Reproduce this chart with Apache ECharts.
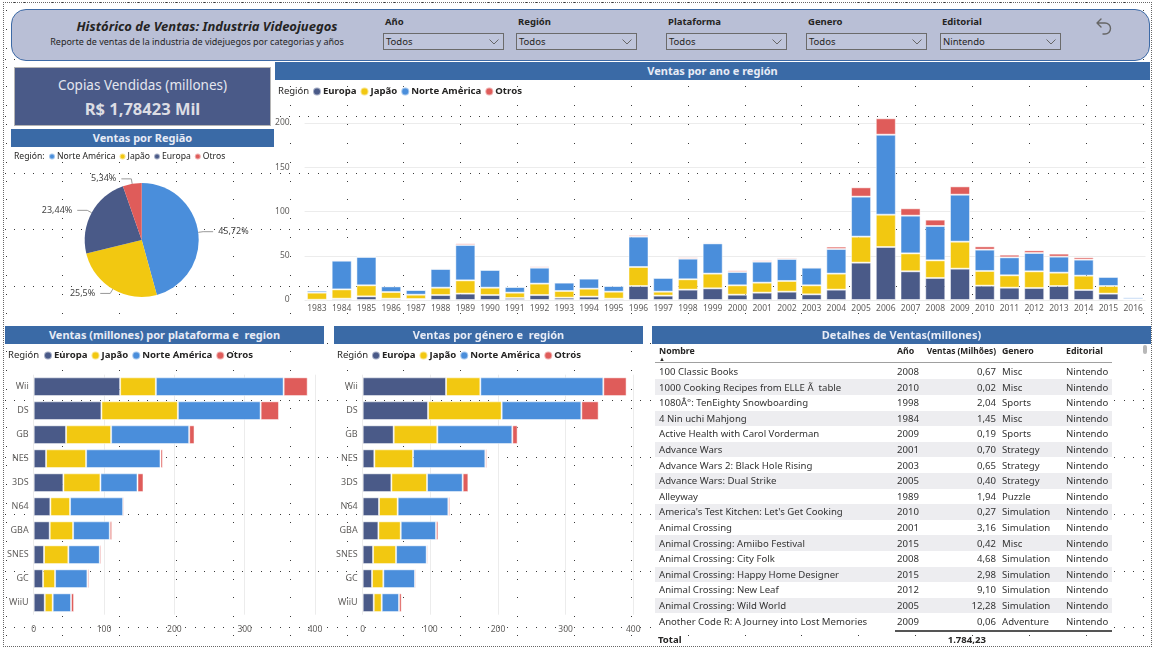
<!DOCTYPE html>
<html><head><meta charset="utf-8">
<script src="https://cdn.jsdelivr.net/npm/echarts@6/dist/echarts.min.js"></script>
<style>
html,body{margin:0;padding:0;width:1155px;height:651px;overflow:hidden;background:#fff;font-family:"Noto Sans","Open Sans",sans-serif;color:#252423;}
.abs{position:absolute;}
#frame{left:3px;top:2px;width:1149px;height:645px;border:1px dotted #666;box-sizing:border-box;}
#header{left:11px;top:9px;width:1139px;height:52px;background:#b9bfd6;border:1.5px solid #3d6aa6;border-radius:15px;box-sizing:border-box;}
.htitle{font-weight:bold;font-style:italic;font-size:13px;white-space:nowrap;transform:translateX(-50%);}
.hsub{font-size:9px;white-space:nowrap;transform:translateX(-50%);}
.slab{font-weight:bold;font-size:9.5px;white-space:nowrap;}
.sbox{height:17px;width:121px;border:1px solid #6b6b6b;box-sizing:border-box;background:#bfc5db;font-size:9.5px;line-height:15px;padding-left:2px;}
.sbox svg{position:absolute;right:4px;top:5px;}
.band{background:#3a6aa6;color:#e8ecf6;font-weight:bold;font-size:11px;text-align:center;white-space:pre;}
#card{left:14px;top:67px;width:257px;height:59px;background:#4a5a88;border:1px solid #b5b5b5;box-sizing:border-box;text-align:center;}
.row{left:655px;width:457px;height:15.6px;}
.cell{font-size:9.6px;white-space:nowrap;color:#333;}
.th{font-size:8.8px;font-weight:bold;white-space:nowrap;color:#252423;}
</style></head>
<body>
<canvas id="dots" class="abs" width="1155" height="651" style="left:0;top:0"></canvas>
<div id="frame" class="abs"></div>
<div id="header" class="abs"></div>
<div id="overlay"></div>
<div id="chart" class="abs" style="left:0;top:0;width:1155px;height:651px;"></div>
<script>
// ---------- DATA ----------
const years = ['1983','1984','1985','1986','1987','1988','1989','1990','1991','1992','1993','1994','1995','1996','1997','1998','1999','2000','2001','2002','2003','2004','2005','2006','2007','2008','2009','2010','2011','2012','2013','2014','2015','2016'];
const yearEuropa = [0.3,1.5,4.1,1.5,1.1,5.6,7.2,5.6,2.3,5.6,2.6,3.8,1.5,15.8,4.9,11.7,13.2,6.0,8.3,9.4,6.4,11.7,42.2,59.9,32.4,24.9,35.4,16.2,13.9,13.6,15.8,11.3,7.2,0.3];
const yearJapao  = [8.0,10.5,12.5,7.5,4.9,8.3,15.0,8.3,6.0,12.9,7.6,9.0,7.9,21.5,4.5,11.7,16.6,10.6,11.3,12.1,10.2,18.1,29.4,36.5,20.3,19.9,30.5,16.6,14.0,18.8,15.1,16.2,8.6,0.8];
const yearNA     = [2.2,32.4,32.0,6.4,5.3,21.1,39.9,20.0,6.4,18.0,9.4,11.3,6.4,34.3,15.5,23.3,34.2,15.0,23.7,24.8,19.9,27.8,45.2,90.4,42.6,38.8,53.1,24.1,20.3,20.7,18.1,18.1,10.2,2.0];
const yearOtros  = [0.8,1.2,1.1,0.8,0.4,1.2,1.9,1.1,0.7,1.5,0.7,1.1,0.8,1.8,1.1,1.5,1.2,1.9,1.5,1.5,1.2,2.7,10.5,18.5,8.3,7.2,9.4,3.7,3.0,3.0,3.4,2.6,1.1,0.3];

const platforms  = ['Wii','DS','GB','NES','3DS','N64','GBA','SNES','GC','WiiU'];
const platEuropa = [122.9,96.3,46.0,17.6,42.2,23.7,22.8,14.7,13.3,15.7];
const platJapao  = [50.8,108.7,64.1,56.9,52.7,28.0,33.2,34.6,17.1,11.3];
const platNA     = [181.7,117.7,111.0,105.8,52.7,75.5,52.2,44.7,46.0,26.1];
const platOtros  = [34.2,26.1,7.6,3.3,8.5,1.9,3.3,2.3,2.4,4.3];

const genreCats   = ['Wii','DS','GB','NES','3DS','N64','GBA','SNES','GC','WiiU'];
const genreEuropa = [123.2,96.6,45.8,17.2,42.4,24.1,23.2,15.3,13.8,16.3];
const genreJapao  = [50.7,108.8,64.5,57.2,52.7,27.6,33.0,34.0,16.7,11.8];
const genreNA     = [181.8,117.8,110.9,106.9,52.7,74.9,52.2,45.3,46.8,25.6];
const genreOtros  = [34.4,25.6,7.8,2.4,8.4,2.5,3.4,2.0,2.0,3.9];

const pieNames  = ['Norte América','Japão','Europa','Otros'];
const pieValues = [45.72,25.5,23.44,5.34];

const tblNombre = ['100 Classic Books','1000 Cooking Recipes from ELLE Ã\u00a0 table','1080Â°: TenEighty Snowboarding','4 Nin uchi Mahjong','Active Health with Carol Vorderman','Advance Wars','Advance Wars 2: Black Hole Rising','Advance Wars: Dual Strike','Alleyway',"America's Test Kitchen: Let's Get Cooking",'Animal Crossing','Animal Crossing: Amiibo Festival','Animal Crossing: City Folk','Animal Crossing: Happy Home Designer','Animal Crossing: New Leaf','Animal Crossing: Wild World','Another Code R: A Journey into Lost Memories'];
const tblAno = [2008,2010,1998,1984,2009,2001,2003,2005,1989,2010,2001,2015,2008,2015,2012,2005,2009];
const tblVentas = [0.67,0.02,2.04,1.45,0.19,0.70,0.65,0.40,1.94,0.27,3.16,0.42,4.68,2.98,9.10,12.28,0.06];
const tblGenero = ['Misc','Misc','Sports','Misc','Sports','Strategy','Strategy','Strategy','Puzzle','Simulation','Simulation','Misc','Simulation','Simulation','Simulation','Simulation','Adventure'];
const tblEditorial = ['Nintendo','Nintendo','Nintendo','Nintendo','Nintendo','Nintendo','Nintendo','Nintendo','Nintendo','Nintendo','Nintendo','Nintendo','Nintendo','Nintendo','Nintendo','Nintendo','Nintendo'];
const tblTotal = '1.784,23';

const slicers = [
  {label:'Año', value:'Todos', x:383},
  {label:'Región', value:'Todos', x:516},
  {label:'Plataforma', value:'Todos', x:666},
  {label:'Genero', value:'Todos', x:806},
  {label:'Editorial', value:'Nintendo', x:940}
];

// ---------- DOTS BACKGROUND ----------
(function(){
  const c = document.getElementById('dots').getContext('2d');
  c.fillStyle = '#3a3a3a';
  const step = 56.85;
  for (let r = 0; r < 12; r++) {
    const y = Math.round(2 + r*step);
    for (let x = 5; x < 1150; x += 9.48) c.fillRect(Math.round(x), y, 1, 1);
  }
  for (let k = 0; k < 21; k++) {
    const x = Math.round(5.5 + k*step);
    for (let y = 10; y < 648; y += 18.95) c.fillRect(x, Math.round(y), 1, 1);
  }
})();

// ---------- HTML OVERLAY ----------
const ov = document.getElementById('overlay');
function add(html){ ov.insertAdjacentHTML('beforeend', html); }
add('<div class="abs htitle" style="left:207px;top:17px;">Histórico de Ventas: Industria Videojuegos</div>');
add('<div class="abs hsub" style="left:197px;top:35px;">Reporte de ventas de la industria de videjuegos por categorias y años</div>');
slicers.forEach(s=>{
  add('<div class="abs slab" style="left:'+(s.x+2)+'px;top:15px;">'+s.label+'</div>');
  add('<div class="abs sbox" style="left:'+s.x+'px;top:33px;">'+s.value+
      '<svg width="10" height="6"><polyline points="0.5,0.5 5,5 9.5,0.5" fill="none" stroke="#666" stroke-width="1"/></svg></div>');
});
add('<svg class="abs" style="left:1093px;top:16px" width="20" height="20"><path d="M4 7 L8 3 M4 7 L8 11 M4 7 H12 A5.5 5.5 0 0 1 12 18 H10" fill="none" stroke="#666" stroke-width="1.4" stroke-linecap="round"/></svg>');

add('<div id="card" class="abs"><div style="color:#e4e6ef;font-size:13.5px;margin-top:8px;">Copias Vendidas (millones)</div>'+
    '<div style="color:#dcdde4;font-size:16.5px;font-weight:bold;margin-top:3px;">R$ 1,78423 Mil</div></div>');

add('<div class="abs band" style="left:11px;top:129px;width:263px;height:18px;line-height:18px;">Ventas por Região</div>');
add('<div class="abs band" style="left:275px;top:62px;width:875px;height:18px;line-height:18px;">Ventas por ano e región</div>');
add('<div class="abs band" style="left:5px;top:326px;width:319px;height:18px;line-height:18px;">Ventas (millones) por plataforma e  region</div>');
add('<div class="abs band" style="left:334px;top:326px;width:309px;height:18px;line-height:18px;">Ventas por género e  región</div>');
add('<div class="abs band" style="left:652px;top:326px;width:499px;height:18px;line-height:18px;">Detalhes de Ventas(millones)</div>');

// table
add('<div class="abs" style="left:655px;top:344px;width:457px;height:18px;background:#fff;"></div>');
add('<div class="abs th" style="left:659px;top:345px;">Nombre</div>');
add('<div class="abs" style="left:659px;top:356px;font-size:6px;line-height:6px;">&#9650;</div>');
add('<div class="abs th" style="left:897px;top:345px;">Año</div>');
add('<div class="abs th" style="left:896px;width:100px;text-align:right;top:345px;font-size:8.4px;">Ventas (Milhões)</div>');
add('<div class="abs th" style="left:1002px;top:345px;">Genero</div>');
add('<div class="abs th" style="left:1066px;top:345px;">Editorial</div>');
add('<div class="abs" style="left:655px;top:362px;width:457px;height:1px;background:#a0a0a0;"></div>');
add('<div class="abs" style="left:1143px;top:345px;width:4px;height:9px;border-radius:2px;background:#b8b8b8;"></div>');
for (let i = 0; i < tblNombre.length; i++) {
  const top = 363.8 + i*15.6;
  const bg = (i % 2 === 1) ? '#ededf0' : '#ffffff';
  add('<div class="abs row" style="top:'+top+'px;background:'+bg+';"></div>');
  const ty = top + 1.2;
  add('<div class="abs cell" style="left:659px;top:'+ty+'px;">'+tblNombre[i]+'</div>');
  add('<div class="abs cell" style="left:897px;top:'+ty+'px;">'+tblAno[i]+'</div>');
  add('<div class="abs cell" style="left:896px;width:100px;text-align:right;top:'+ty+'px;">'+tblVentas[i].toFixed(2).replace('.',',')+'</div>');
  add('<div class="abs cell" style="left:1002px;top:'+ty+'px;">'+tblGenero[i]+'</div>');
  add('<div class="abs cell" style="left:1066px;top:'+ty+'px;">'+tblEditorial[i]+'</div>');
}
add('<div class="abs" style="left:895px;top:630px;width:217px;height:1.5px;background:#555;"></div>');
add('<div class="abs th" style="left:658px;top:633px;font-size:9.6px;">Total</div>');
add('<div class="abs th" style="left:886px;width:100px;text-align:right;top:633px;font-size:9.6px;">'+tblTotal+'</div>');

// ---------- ECHARTS ----------
const C = {E:'#4a5a88', J:'#f2c811', NA:'#4a8edb', O:'#df5c5a'};
const FONT = 'Noto Sans';
const chart = echarts.init(document.getElementById('chart'), null, {renderer:'canvas'});
const border = {borderColor:'rgba(255,255,255,0.5)', borderWidth:1};
function bars(stack, xi, yi, names, arrs, gap){
  return names.map((n,k)=>({
    name:n, type:'bar', stack:stack, xAxisIndex:xi, yAxisIndex:yi,
    data:arrs[k], barCategoryGap:gap, itemStyle:Object.assign({color:[C.E,C.J,C.NA,C.O][k]}, border),
    emphasis:{disabled:true}, animation:false
  }));
}
const regNames = ['Europa','Japão','Norte América','Otros'];
const axLab = {color:'#605e5c', fontSize:8.5, fontFamily:FONT};
const legendBase = {icon:'circle', itemWidth:8, itemHeight:8, itemGap:3, padding:0, selectedMode:false,
  textStyle:{fontFamily:FONT, fontSize:9.6, fontWeight:'bold', color:'#252423', padding:[0,0,0,-3]}};

const option = {
  backgroundColor:'transparent',
  animation:false,
  textStyle:{fontFamily:FONT},
  legend:[
    Object.assign({}, legendBase, {left:312, top:86.5, data:regNames}),
    Object.assign({}, legendBase, {left:43, top:350.5, data:regNames}),
    Object.assign({}, legendBase, {left:371, top:350.5, data:regNames}),
    Object.assign({}, legendBase, {left:48, top:152, itemWidth:6, itemHeight:6, itemGap:3, data:pieNames,
      textStyle:{fontFamily:FONT, fontSize:8.6, color:'#252423', padding:[0,0,0,-3]}})
  ],
  graphic:[
    {type:'text', x:278, y:91.5, style:{text:'Región', font:'9.5px "Noto Sans"', fill:'#252423', verticalAlign:'middle'}},
    {type:'text', x:8, y:355.5, style:{text:'Región', font:'9.5px "Noto Sans"', fill:'#252423', verticalAlign:'middle'}},
    {type:'text', x:337, y:355.5, style:{text:'Región', font:'9.5px "Noto Sans"', fill:'#252423', verticalAlign:'middle'}},
    {type:'text', x:14, y:156.5, style:{text:'Región:', font:'8.6px "Noto Sans"', fill:'#252423', verticalAlign:'middle'}}
  ],
  grid:[
    {left:304.6, right:9.5, top:105.3, height:194.7, containLabel:false},
    {left:33.7, width:281.3, top:374.7, height:240, containLabel:false},
    {left:362.7, width:270.6, top:374.7, height:240, containLabel:false}
  ],
  xAxis:[
    {type:'category', gridIndex:0, data:years, axisLine:{show:false}, axisTick:{show:false},
     axisLabel:Object.assign({margin:4, interval:0}, axLab)},
    {type:'value', gridIndex:1, min:0, max:400, interval:100, axisLabel:Object.assign({margin:10}, axLab),
     splitLine:{lineStyle:{color:'#ececec'}}},
    {type:'value', gridIndex:2, min:0, max:400, interval:100, axisLabel:Object.assign({margin:10}, axLab),
     splitLine:{lineStyle:{color:'#ececec'}}}
  ],
  yAxis:[
    {type:'value', gridIndex:0, min:0, max:220, interval:50, axisLabel:Object.assign({margin:15, showMaxLabel:false}, axLab),
     splitLine:{showMaxLine:false, lineStyle:{color:'#ececec'}}},
    {type:'category', gridIndex:1, data:platforms, inverse:true, axisLine:{show:false}, axisTick:{show:false},
     axisLabel:Object.assign({margin:5}, axLab, {fontSize:9})},
    {type:'category', gridIndex:2, data:genreCats, inverse:true, axisLine:{show:false}, axisTick:{show:false},
     axisLabel:Object.assign({margin:5}, axLab, {fontSize:9})}
  ],
  series:[].concat(
    bars('y',0,0,regNames,[yearEuropa,yearJapao,yearNA,yearOtros],'19%'),
    bars('p',1,1,regNames,[platEuropa,platJapao,platNA,platOtros],'22%'),
    bars('g',2,2,regNames,[genreEuropa,genreJapao,genreNA,genreOtros],'22%'),
    [{
      type:'pie', center:[141.7,240], radius:[0,57], startAngle:90, clockwise:true,
      data:pieNames.map((n,i)=>({name:n, value:pieValues[i], itemStyle:{color:[C.NA,C.J,C.E,C.O][i]}})),
      label:{show:true, formatter:p=>String(p.value).replace('.',',')+'%', fontSize:9, color:'#444', fontFamily:FONT},
      labelLine:{show:true, length:5, length2:10, lineStyle:{color:'#999'}},
      emphasis:{disabled:true}, animation:false
    }]
  )
};
chart.setOption(option);
</script>
</body></html>
